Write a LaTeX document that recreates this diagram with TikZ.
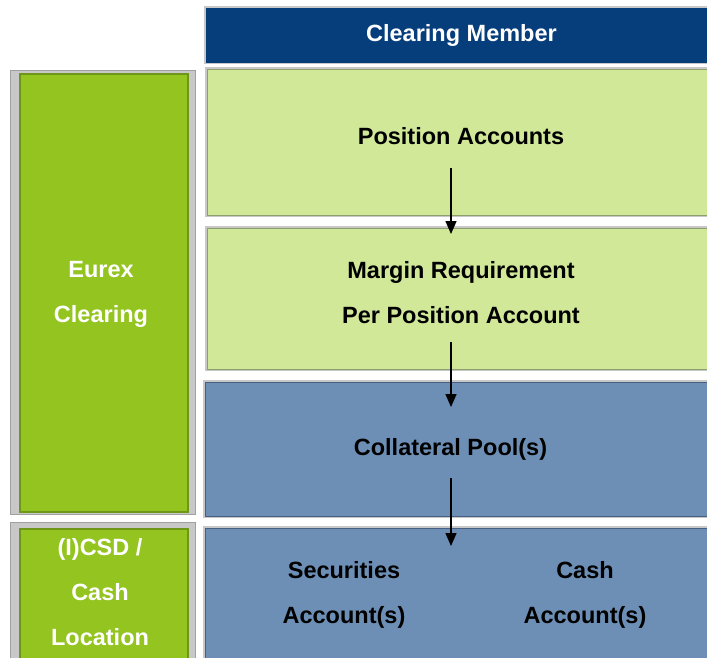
\documentclass[tikz,border=0pt]{standalone}
\usepackage{fontspec}
\setmainfont{Liberation Sans}
\usetikzlibrary{arrows.meta}
\definecolor{hdrblue}{RGB}{6,61,123}
\definecolor{lgreen}{RGB}{208,232,152}
\definecolor{lgreenedge}{RGB}{140,160,110}
\definecolor{dgreen}{RGB}{147,196,31}
\definecolor{dgreenedge}{RGB}{110,150,25}
\definecolor{mblue}{RGB}{109,143,182}
\definecolor{mblueedge}{RGB}{70,95,130}
\definecolor{shadowgray}{RGB}{200,200,200}
\tikzset{
  box/.style={rectangle, inner sep=0pt, line width=1pt,
    preaction={draw=shadowgray, line width=4pt}},
  lgbox/.style={box, fill=lgreen, draw=lgreenedge},
  blbox/.style={box, fill=mblue, draw=mblueedge},
  hdrbox/.style={box, fill=hdrblue, draw=hdrblue},
  colouter/.style={rectangle, inner sep=0pt, fill=shadowgray, draw=shadowgray!80!black, line width=0.6pt},
  colinner/.style={rectangle, inner sep=0pt, fill=dgreen, draw=dgreenedge, line width=1.2pt},
  lbl/.style={font=\fontsize{23.5}{45}\selectfont\bfseries, align=center, inner sep=0pt, text=black},
  wlbl/.style={lbl, text=white},
  arr/.style={line width=1.4pt, -{Triangle[width=11pt,length=13pt]}}
}
\begin{document}
\begin{tikzpicture}[x=1pt,y=-1pt]
\useasboundingbox (0,0) rectangle (707,657);
% header
\node[hdrbox, minimum width=509pt, minimum height=54pt] (hdr) at (460.5,35) {};
\node[wlbl] (hdrt) at (461.5,35) {Clearing Member};
% left columns
\node[colouter, minimum width=185pt, minimum height=444pt] (eurexo) at (102.5,292) {};
\node[colinner, minimum width=168pt, minimum height=438pt] (eurex) at (104,293) {};
\node[wlbl] (eurext) at (101,294) {Eurex\\Clearing};
\node[colouter, minimum width=185pt, minimum height=143pt] (csdo) at (102.5,593.5) {};
\node[colinner, minimum width=168pt, minimum height=136pt] (csd) at (104,597) {};
\node[wlbl] (csdt) at (100,592.5) {(I)CSD /\\Cash\\Location};
% right boxes
\node[lgbox, minimum width=508pt, minimum height=146pt] (pa) at (461,142) {};
\node[lbl] (pat) at (461,136) {Position Accounts};
\node[lgbox, minimum width=508pt, minimum height=141pt] (mr) at (461,298.5) {};
\node[lbl] (mrt) at (461,292.5) {Margin Requirement\\Per Position Account};
\node[blbox, minimum width=510pt, minimum height=134pt] (cp) at (460,449) {};
\node[lbl] (cpt) at (450.5,449) {Collateral Pool(s)};
\node[blbox, minimum width=510pt, minimum height=137pt] (sa) at (460,596.5) {};
\node[lbl] (sat) at (344,594.5) {Securities\\Account(s)};
\node[lbl] (cat) at (585,594.5) {Cash\\Account(s)};
% arrows
\coordinate (a1s) at (451,168);
\coordinate (a1e) at (451,234);
\coordinate (a2s) at (451,342);
\coordinate (a2e) at (451,407);
\coordinate (a3s) at (451,478);
\coordinate (a3e) at (451,546);
\draw[arr] (a1s) -- (a1e);
\draw[arr] (a2s) -- (a2e);
\draw[arr] (a3s) -- (a3e);
\end{tikzpicture}
\end{document}
